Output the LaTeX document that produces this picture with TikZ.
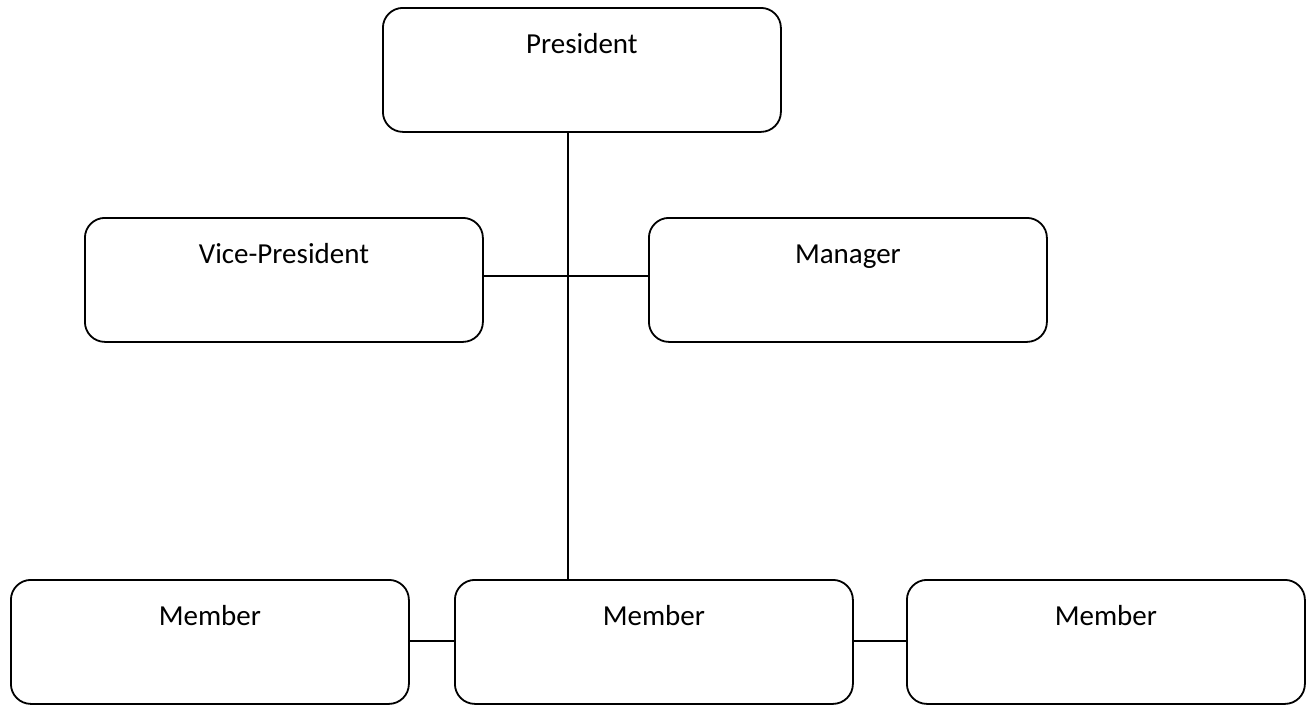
\documentclass[tikz,border=0pt]{standalone}
\usepackage{fontspec}
\setmainfont{Carlito}
\begin{document}
\begin{tikzpicture}[x=1pt,y=1pt,
  box/.style={draw=black, line width=1.8pt, rounded corners=20pt, minimum width=398pt, minimum height=124pt, inner sep=0pt, anchor=north west},
  lbl/.style={anchor=base, font=\fontsize{29}{34}\selectfont},
  conn/.style={draw=black, line width=1.8pt}]
\useasboundingbox (0,0) rectangle (1313,-704);
\node[box] (pres) at (382,-7) {};
\node[box] (vp) at (84,-217) {};
\node[box] (mgr) at (648,-217) {};
\node[box] (m1) at (10,-579) {};
\node[box] (m2) at (454,-579) {};
\node[box] (m3) at (906,-579) {};
\node[lbl] (tpres) at ([yshift=-46pt]pres.north) {President};
\node[lbl] (tvp) at ([yshift=-46pt]vp.north) {Vice-President};
\node[lbl] (tmgr) at ([yshift=-46pt]mgr.north) {Manager};
\node[lbl] (tm1) at ([yshift=-46pt]m1.north) {Member};
\node[lbl] (tm2) at ([yshift=-46pt]m2.north) {Member};
\node[lbl] (tm3) at ([yshift=-46pt]m3.north) {Member};
\coordinate (sx) at (568,0);
\draw[conn] (sx |- pres.south) -- (sx |- m2.north);
\draw[conn] ([yshift=4pt]vp.east) -- ([yshift=4pt]mgr.west);
\draw[conn] ([yshift=1pt]m1.east) -- ([yshift=1pt]m2.west);
\draw[conn] ([yshift=1pt]m2.east) -- ([yshift=1pt]m3.west);
\end{tikzpicture}
\end{document}
